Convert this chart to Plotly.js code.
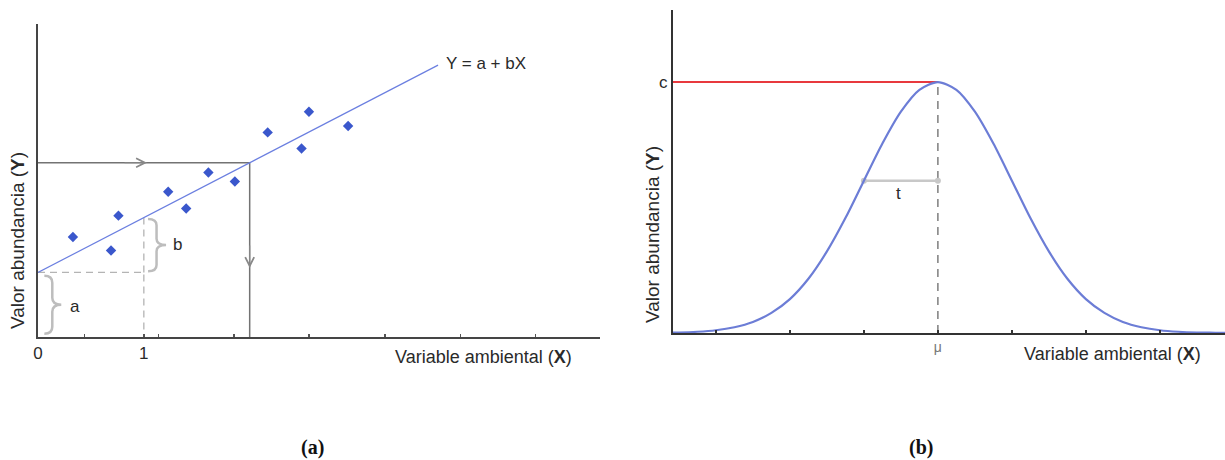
<!DOCTYPE html>
<html>
<head>
<meta charset="utf-8">
<script src="https://cdn.plot.ly/plotly-3.0.1.min.js"></script>
<style>html,body{margin:0;padding:0;background:#fff;}#chart{width:1225px;height:460px;}</style>
</head>
<body>
<div id="chart"></div>
<script>
// ---------- Panel (a): linear model ----------
const scatterX = [0.33, 0.69, 0.76, 1.23, 1.40, 1.61, 1.86, 2.17, 2.49, 2.56, 2.93];
const scatterY = [1.55, 1.34, 1.88, 2.25, 1.99, 2.55, 2.41, 3.17, 2.92, 3.49, 3.27];
const interceptA = 1.0;      // a
const slopeB = 0.85;         // b
const lineEndX = 3.78;       // where the fitted line stops
const readX = 2.0;           // value
const leftXRange = [0, 5.31];
const leftYRange = [0, 4.85];
const leftTickVals = [0, 0.44, 1, 1.14, 1.85, 2.56, 3.28, 3.99, 4.70];
const leftTickText = ['0', '', '1', '', '', '', '', '', ''];

// ---------- Panel (b): Gaussian response ----------
const gaussX = [0.25, 0.5, 0.75, 1.0, 1.25, 1.5, 1.75, 2.0, 2.25, 2.5, 2.75, 3.0, 3.25, 3.5, 3.75, 4.0,
                4.25, 4.5, 4.75, 5.0, 5.25, 5.5, 5.75, 6.0, 6.25, 6.5, 6.75, 7.0, 7.25, 7.5, 7.75, 8.0];
const gaussY = [0.001, 0.002, 0.005, 0.011, 0.023, 0.044, 0.080, 0.135, 0.216, 0.325, 0.458, 0.607, 0.755, 0.882, 0.969, 1.000,
                0.969, 0.882, 0.755, 0.607, 0.458, 0.325, 0.216, 0.135, 0.080, 0.044, 0.023, 0.011, 0.005, 0.002, 0.001, 0.000];
const optimumC = 1.0;   // c
const optimumMu = 4.0;  // μ
const toleranceT = 1.0; // t
const tLevel = 0.607;   // curve height at μ - t
const rightXRange = [0.42, 7.88];
const rightYRange = [0, 1.287];
const rightTickVals = [1, 2, 3, 4, 5, 6, 7];
const rightTickText = ['', '', '', 'μ', '', '', ''];

const FONT = 'Liberation Sans, Arial, sans-serif';
const TXT = '#2a2a2a';

const yA = interceptA;
const yAB = interceptA + slopeB;
const yRead = interceptA + slopeB * readX;
const yEnd = interceptA + slopeB * lineEndX;

function brace(xl, xm, xt, y0, y1) {
  const ym = (y0 + y1) / 2;
  const d = (y1 - y0) * 0.12;
  return `M${xl},${y1} Q${xm},${y1} ${xm},${y1 - d} L${xm},${ym + d} Q${xm},${ym} ${xt},${ym} ` +
         `Q${xm},${ym} ${xm},${ym - d} L${xm},${y0 + d} Q${xm},${y0} ${xl},${y0}`;
}

function paperText(px, py, text, size, extra) {
  return Object.assign({xref: 'paper', yref: 'paper', x: px / 1225, y: 1 - py / 460, xanchor: 'center', yanchor: 'middle',
    showarrow: false, text: text, font: {size: size, color: TXT}}, extra || {});
}

const traces = [
  // left: guide lines
  {x: [0, readX, readX], y: [yRead, yRead, 0], mode: 'lines', line: {color: '#737373', width: 1.5}, xaxis: 'x', yaxis: 'y', hoverinfo: 'skip'},
  {x: [0, 1, 1], y: [yA, yA, 0], mode: 'lines', line: {color: '#b4b4b4', width: 1.3, dash: '7px,5px'}, xaxis: 'x', yaxis: 'y', hoverinfo: 'skip'},
  {x: [1, 1], y: [yA, yAB], mode: 'lines', line: {color: '#b4b4b4', width: 1.3, dash: '7px,5px'}, xaxis: 'x', yaxis: 'y', hoverinfo: 'skip'},
  // fitted line
  {x: [0, lineEndX], y: [interceptA, yEnd], mode: 'lines', line: {color: '#6b7fe0', width: 1.2}, xaxis: 'x', yaxis: 'y'},
  // observations
  {x: scatterX, y: scatterY, mode: 'markers', marker: {symbol: 'diamond', size: 8, color: '#3a57cc'}, xaxis: 'x', yaxis: 'y'},

  // right: red optimum line
  {x: [rightXRange[0], optimumMu], y: [optimumC, optimumC], mode: 'lines', line: {color: '#e8393e', width: 2}, xaxis: 'x2', yaxis: 'y2'},
  // dashed μ line
  {x: [optimumMu, optimumMu], y: [0, optimumC], mode: 'lines', line: {color: '#6a6a6a', width: 1.3, dash: '8px,6px'}, xaxis: 'x2', yaxis: 'y2'},
  // t bar
  {x: [optimumMu - toleranceT, optimumMu], y: [tLevel, tLevel], mode: 'lines+markers', line: {color: '#c8c8c8', width: 2.5},
   marker: {color: '#c8c8c8', size: 6}, xaxis: 'x2', yaxis: 'y2'},
  // gaussian curve
  {x: gaussX, y: gaussY, mode: 'lines', line: {color: '#6c7dd6', width: 2.2, shape: 'spline', smoothing: 0.8}, xaxis: 'x2', yaxis: 'y2'}
];

const layout = {
  width: 1225, height: 460,
  margin: {l: 0, r: 0, t: 0, b: 0},
  paper_bgcolor: '#fff', plot_bgcolor: 'rgba(0,0,0,0)',
  showlegend: false,
  font: {family: FONT, color: TXT},
  xaxis: {domain: [38 / 1225, 600 / 1225], range: leftXRange, showgrid: false, zeroline: false,
          showline: true, linecolor: '#454545', linewidth: 2, tickmode: 'array', tickvals: leftTickVals,
          ticktext: leftTickText, ticks: 'inside', ticklen: 3, tickwidth: 1.5, tickcolor: '#555',
          tickfont: {family: FONT, size: 17, color: TXT}, anchor: 'y', fixedrange: true},
  yaxis: {domain: [1 - 337 / 460, 1 - 24 / 460], range: leftYRange, showgrid: false, zeroline: false,
          showline: true, linecolor: '#454545', linewidth: 2, showticklabels: false, ticks: '', anchor: 'x', fixedrange: true},
  xaxis2: {domain: [673 / 1225, 1], range: rightXRange, showgrid: false, zeroline: false,
           showline: true, linecolor: '#333', linewidth: 2, tickmode: 'array', tickvals: rightTickVals,
           ticktext: rightTickText, ticks: 'inside', ticklen: 3, tickwidth: 1.5, tickcolor: '#333',
           tickfont: {family: FONT, size: 14, color: '#777'}, anchor: 'y2', fixedrange: true},
  yaxis2: {domain: [1 - 333 / 460, 1 - 10 / 460], range: rightYRange, showgrid: false, zeroline: false,
           showline: true, linecolor: '#333', linewidth: 2, tickmode: 'array', tickvals: [optimumC], ticktext: ['c'],
           ticks: '', tickfont: {family: FONT, size: 17, color: TXT}, anchor: 'x2', fixedrange: true},
  shapes: [
    {type: 'path', xref: 'x', yref: 'y', path: brace(0.06, 0.135, 0.22, 0.05, 0.95),
     line: {color: '#bdbdbd', width: 2.5}},
    {type: 'path', xref: 'x', yref: 'y', path: brace(1.04, 1.12, 1.21, yA + 0.02, yAB - 0.02),
     line: {color: '#bdbdbd', width: 2.5}}
  ],
  annotations: [
    {xref: 'x', yref: 'y', x: 1.03, y: yRead, ax: -24, ay: 0, showarrow: true, arrowhead: 5, arrowsize: 1.6,
     arrowwidth: 1.1, arrowcolor: '#888', text: ''},
    {xref: 'x', yref: 'y', x: readX, y: 1.07, ax: 0, ay: -24, showarrow: true, arrowhead: 5, arrowsize: 1.6,
     arrowwidth: 1.1, arrowcolor: '#888', text: ''},
    {xref: 'x', yref: 'y', x: lineEndX + 0.06, y: yEnd + 0.02, xanchor: 'left', yanchor: 'middle', showarrow: false,
     text: 'Y = a + bX', font: {size: 17, color: TXT}},
    {xref: 'x', yref: 'y', x: 0.35, y: 0.48, xanchor: 'center', yanchor: 'middle', showarrow: false, text: 'a', font: {size: 17, color: TXT}},
    {xref: 'x', yref: 'y', x: 1.32, y: 1.43, xanchor: 'center', yanchor: 'middle', showarrow: false, text: 'b', font: {size: 17, color: TXT}},
    {xref: 'x2', yref: 'y2', x: optimumMu - toleranceT / 2 - 0.03, y: tLevel - 0.05, xanchor: 'center', yanchor: 'middle',
     showarrow: false, text: 't', font: {size: 17, color: TXT}},
    // axis titles
    paperText(17, 241, 'Valor abundancia (<b>Y</b>)', 19, {textangle: -90}),
    paperText(483, 357, 'Variable ambiental (<b>X</b>)', 18),
    paperText(652, 235, 'Valor abundancia (<b>Y</b>)', 19, {textangle: -90}),
    paperText(1112, 354, 'Variable ambiental (<b>X</b>)', 18),
    // panel labels
    paperText(312, 447, '<b>(a)</b>', 20, {font: {family: 'Liberation Serif, Times New Roman, serif', size: 20, color: '#111'}}),
    paperText(921, 447, '<b>(b)</b>', 20, {font: {family: 'Liberation Serif, Times New Roman, serif', size: 20, color: '#111'}})
  ]
};

Plotly.newPlot('chart', traces, layout, {displayModeBar: false, staticPlot: true});
</script>
</body>
</html>
